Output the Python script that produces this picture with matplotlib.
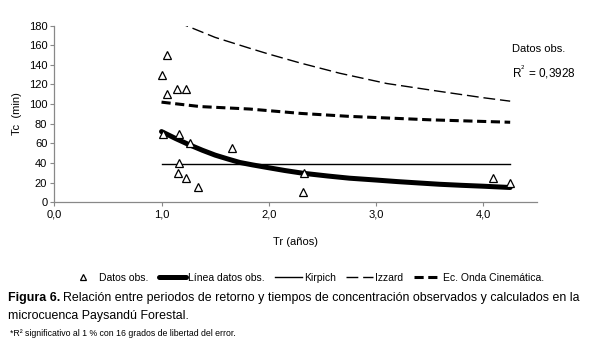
import matplotlib.pyplot as plt
from matplotlib.ticker import FuncFormatter

plt.rcParams['font.family'] = ['Liberation Sans', 'DejaVu Sans']

# datos observados (Tr en años, Tc en minutos)
obs_tr = [1.00, 1.05, 1.05, 1.14, 1.23, 1.01, 1.16, 1.27, 1.66, 1.16, 1.15, 1.23, 1.34,
          2.33, 2.32, 4.09, 4.25]
obs_tc = [130, 150, 110, 115, 115, 70, 70, 60, 55, 40, 30, 25, 15,
          30, 10, 25, 20]

# línea de ajuste de los datos observados
fit_tr = [1.00, 1.13, 1.26, 1.38, 1.50, 1.62, 1.73, 1.85, 1.98, 2.15, 2.32, 2.55, 2.75,
          3.00, 3.20, 3.40, 3.59, 3.80, 4.00, 4.25]
fit_tc = [72, 65, 58.5, 53, 48, 44, 40.5, 38, 35.5, 32.3, 29.5, 26.7, 24.5,
          22.6, 21, 19.6, 18.3, 17.2, 16.3, 15]

# Kirpich
kir_tr = [1.00, 4.25]
kir_tc = [38.5, 38.5]

# Izzard
izz_tr = [1.00, 1.23, 1.50, 1.82, 2.00, 2.29, 2.66, 3.10, 3.59, 4.00, 4.25]
izz_tc = [190, 180, 168, 157, 151, 142, 131.5, 121, 113, 106.5, 103]

# Ec. Onda Cinemática
ond_tr = [1.00, 1.36, 1.82, 2.30, 2.75, 3.50, 4.25]
ond_tc = [102, 97.5, 95, 90.5, 87.5, 84, 81.5]

fig = plt.figure(figsize=(5.96, 3.56), dpi=100)
ax = fig.add_axes([0.091, 0.432, 0.81, 0.496])

ax.plot(fit_tr, fit_tc, color='black', lw=3.6, solid_capstyle='round', label='Línea datos obs.')
ax.plot(kir_tr, kir_tc, color='black', lw=1.0, label='Kirpich')
ax.plot(izz_tr, izz_tc, color='black', lw=1.0, dashes=(8.5, 3.5), label='Izzard')
ax.plot(ond_tr, ond_tc, color='black', lw=2.2, dashes=(3, 1.5), label='Ec. Onda Cinemática.')
ax.plot(obs_tr, obs_tc, ls='none', marker='^', ms=5.5, mfc='white', mec='black', mew=0.9,
        label='Datos obs.')

ax.set_xlim(0, 4.5)
ax.set_ylim(0, 180)
ax.set_xticks([0, 1, 2, 3, 4])
ax.set_yticks(range(0, 181, 20))
ax.xaxis.set_major_formatter(FuncFormatter(lambda v, p: ('%.1f' % v).replace('.', ',')))
ax.tick_params(labelsize=8, length=3, color='#888888', pad=2)
for s in ['top', 'right']:
    ax.spines[s].set_visible(False)
for s in ['left', 'bottom']:
    ax.spines[s].set_color('#888888')
    ax.spines[s].set_linewidth(0.9)

ax.set_ylabel('Tc  (min)', fontsize=8, labelpad=5)
ax.set_xlabel('Tr (años)', fontsize=8, labelpad=13)

fig.text(512 / 596, 1 - 49 / 356, 'Datos obs.', fontsize=8, va='center')
fig.text(512 / 596, 1 - 72 / 356, r'R$^{^2}$ = 0,3928', fontsize=8.5, va='center')

h, l = ax.get_legend_handles_labels()
order = [4, 0, 1, 2, 3]
fig.legend([h[i] for i in order], [l[i] for i in order], loc='center',
           bbox_to_anchor=(307 / 596, 1 - 278 / 356), ncol=5, frameon=False, fontsize=7.5,
           handlelength=2.6, handletextpad=0.2, columnspacing=1.0, markerscale=0.7)

renderer = fig.canvas.get_renderer()
t1 = fig.text(8 / 596, 1 - 298 / 356, 'Figura 6.', fontsize=8.9, fontweight='bold', va='center')
bb = t1.get_window_extent(renderer).transformed(fig.transFigure.inverted())
fig.text(bb.x1 + 3 / 596, 1 - 298 / 356,
         'Relación entre periodos de retorno y tiempos de concentración observados y calculados en la',
         fontsize=8.9, va='center')
fig.text(8 / 596, 1 - 316 / 356, 'microcuenca Paysandú Forestal.', fontsize=8.9, va='center')
fig.text(10 / 596, 1 - 334 / 356, '*R² significativo al 1 % con 16 grados de libertad del error.',
         fontsize=6.3, va='center')

fig.savefig('out.png', dpi=100)
